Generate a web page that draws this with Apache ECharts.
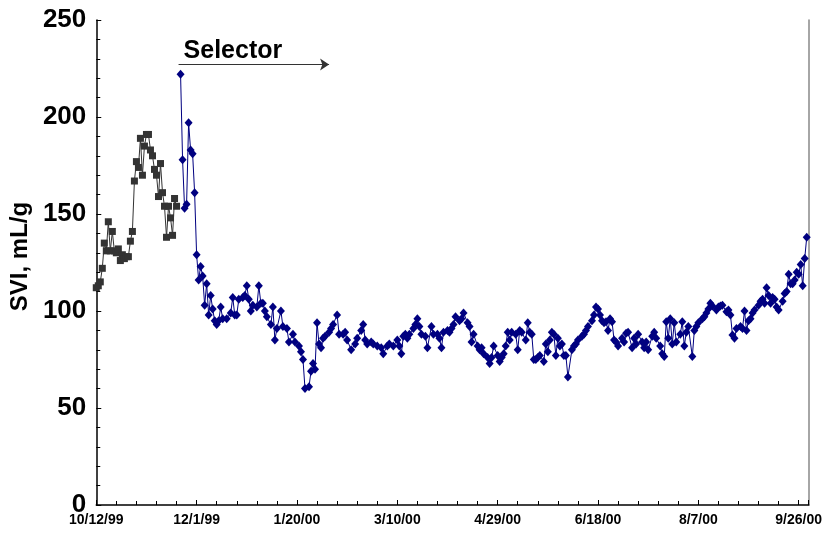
<!DOCTYPE html>
<html><head><meta charset="utf-8">
<script src="https://cdn.jsdelivr.net/npm/echarts@6/dist/echarts.min.js"></script>
<style>html,body{margin:0;padding:0;background:#fff}#c{width:825px;height:535px}</style>
</head><body><div id="c"></div>
<script>
// ---------- data ----------
const startDate = '1999-10-12';
const endDate = '2000-10-01';
const xTickIntervalDays = 50;
const yMin = 0, yMax = 250, yInterval = 50;
const yAxisTitle = 'SVI, mL/g';

const prelimDates = [
 '1999-10-12','1999-10-13','1999-10-14','1999-10-15','1999-10-16','1999-10-17','1999-10-18','1999-10-19','1999-10-20','1999-10-21',
 '1999-10-22','1999-10-23','1999-10-24','1999-10-25','1999-10-26','1999-10-27','1999-10-28','1999-10-29','1999-10-30','1999-10-31',
 '1999-11-01','1999-11-02','1999-11-03','1999-11-04','1999-11-05','1999-11-06','1999-11-07','1999-11-08','1999-11-09','1999-11-10',
 '1999-11-11','1999-11-12','1999-11-13','1999-11-14','1999-11-15','1999-11-16','1999-11-17','1999-11-18','1999-11-19','1999-11-20','1999-11-21'];
const prelimSVI = [
 112,113,115,122,135,131,146,131,141,131,
 130,132,126,129,127,128,128,136,141,167,
 177,174,189,170,185,191,191,183,180,173,
 170,159,176,161,154,138,154,148,139,158,154];

const selectorDates = [
 '1999-11-23','1999-11-24','1999-11-25','1999-11-26','1999-11-27','1999-11-28','1999-11-29','1999-11-30',
 '1999-12-01','1999-12-02','1999-12-03','1999-12-04','1999-12-05','1999-12-06','1999-12-07','1999-12-08','1999-12-09','1999-12-10',
 '1999-12-11','1999-12-12','1999-12-13','1999-12-14','1999-12-16','1999-12-18','1999-12-19','1999-12-20','1999-12-21','1999-12-22',
 '1999-12-24','1999-12-25','1999-12-26','1999-12-27','1999-12-28','1999-12-29','1999-12-31',
 '2000-01-01','2000-01-02','2000-01-03','2000-01-04','2000-01-05','2000-01-07','2000-01-08','2000-01-09','2000-01-10','2000-01-12',
 '2000-01-13','2000-01-15','2000-01-16','2000-01-18','2000-01-19','2000-01-21','2000-01-22','2000-01-23','2000-01-24','2000-01-26',
 '2000-01-27','2000-01-28','2000-01-29','2000-01-30','2000-01-31',
 '2000-02-01','2000-02-02','2000-02-03','2000-02-05','2000-02-06','2000-02-07','2000-02-09','2000-02-10','2000-02-12','2000-02-13',
 '2000-02-14','2000-02-16','2000-02-18','2000-02-19','2000-02-21','2000-02-22','2000-02-23','2000-02-24','2000-02-26','2000-02-27','2000-02-29',
 '2000-03-02','2000-03-03','2000-03-05','2000-03-06','2000-03-08','2000-03-10','2000-03-11','2000-03-12','2000-03-13','2000-03-14',
 '2000-03-15','2000-03-16','2000-03-18','2000-03-19','2000-03-20','2000-03-21','2000-03-22','2000-03-24','2000-03-25','2000-03-27',
 '2000-03-28','2000-03-30','2000-03-31',
 '2000-04-01','2000-04-02','2000-04-04','2000-04-05','2000-04-06','2000-04-07','2000-04-08','2000-04-10','2000-04-11','2000-04-12',
 '2000-04-14','2000-04-15','2000-04-16','2000-04-17','2000-04-19','2000-04-20','2000-04-21','2000-04-22','2000-04-24','2000-04-25',
 '2000-04-26','2000-04-27','2000-04-29','2000-04-30',
 '2000-05-01','2000-05-02','2000-05-03','2000-05-04','2000-05-05','2000-05-06','2000-05-08','2000-05-09','2000-05-10','2000-05-11',
 '2000-05-13','2000-05-14','2000-05-15','2000-05-16','2000-05-17','2000-05-18','2000-05-19','2000-05-20','2000-05-22','2000-05-23',
 '2000-05-24','2000-05-25','2000-05-26','2000-05-27','2000-05-28','2000-05-29','2000-05-30','2000-05-31',
 '2000-06-01','2000-06-02','2000-06-03','2000-06-05','2000-06-06','2000-06-07','2000-06-08','2000-06-10','2000-06-11','2000-06-12',
 '2000-06-13','2000-06-15','2000-06-16','2000-06-17','2000-06-18','2000-06-19','2000-06-20','2000-06-21','2000-06-22','2000-06-23',
 '2000-06-24','2000-06-25','2000-06-26','2000-06-27','2000-06-28','2000-06-30',
 '2000-07-01','2000-07-02','2000-07-03','2000-07-05','2000-07-06','2000-07-07','2000-07-08','2000-07-10','2000-07-11','2000-07-12',
 '2000-07-13','2000-07-15','2000-07-16','2000-07-17','2000-07-19','2000-07-20','2000-07-21','2000-07-22','2000-07-23','2000-07-24',
 '2000-07-25','2000-07-26','2000-07-27','2000-07-29','2000-07-30','2000-07-31',
 '2000-08-01','2000-08-02','2000-08-04','2000-08-05','2000-08-06','2000-08-07','2000-08-09','2000-08-10','2000-08-11','2000-08-12',
 '2000-08-13','2000-08-14','2000-08-16','2000-08-17','2000-08-18','2000-08-19','2000-08-21','2000-08-22','2000-08-23','2000-08-24',
 '2000-08-25','2000-08-26','2000-08-28','2000-08-29','2000-08-30','2000-08-31',
 '2000-09-01','2000-09-02','2000-09-03','2000-09-04','2000-09-06','2000-09-07','2000-09-08','2000-09-09','2000-09-10','2000-09-11',
 '2000-09-12','2000-09-13','2000-09-14','2000-09-15','2000-09-16','2000-09-18','2000-09-19','2000-09-20','2000-09-21','2000-09-22',
 '2000-09-23','2000-09-24','2000-09-25','2000-09-26','2000-09-27','2000-09-28','2000-09-29','2000-09-30'];
const selectorSVI = [
 222,178,153,155,197,183,181,161,
 129,116,123,118,103,114,98,108,101,95,
 93,95,102,96,96,99,107,98,98,106,
 107,108,113,106,100,103,102,
 113,104,104,100,97,93,102,85,91,100,
 92,91,84,88,84,82,79,75,60,61,
 69,73,70,94,83,
 81,86,87,89,91,93,98,88,88,89,
 85,80,83,86,90,93,85,83,84,83,82,
 81,78,82,83,82,85,82,78,87,88,
 86,88,91,93,96,92,88,87,81,92,
 88,88,86,
 81,89,90,89,91,93,97,95,96,99,
 94,92,84,88,82,80,81,78,76,73,
 76,82,77,74,
 76,78,82,89,85,89,88,80,90,89,
 85,94,89,88,75,75,76,77,74,83,
 79,85,89,88,77,86,82,83,
 77,77,66,80,82,83,85,87,88,90,
 92,95,98,102,101,98,95,94,94.5,90,
 96,94.5,85,84,82,86,
 84,88.5,89,81,86,83,88,84,81,84,
 80,87,89,86,82,78,76.5,94.5,86,96,
 83,94,84,88,94.5,82,
 89,92,76.5,90,92,94,96,97,99,101,
 104,102.6,100.5,102,102.6,103,99.6,100.5,98,87.6,
 86,91,92,91,100,90,
 95,96,99,100.5,103,105,106,104,112,108,
 104,107,106,102,100.5,105,109,110,119,114,
 114,116,120,119,124,113,127,138];

const annotationText = 'Selector';
const arrowDates = ['1999-11-22', '2000-02-05'];
const arrowLevel = 227;
const annotationDate = '1999-11-25';
const annotationLevel = 234;

// ---------- helpers ----------
const DAY = 86400000;
function utc(s){ const p = s.split('-').map(Number); return Date.UTC(p[0], p[1]-1, p[2]); }
const t0 = utc(startDate);
function dayOf(s){ return Math.round((utc(s) - t0) / DAY); }
function fmt(v){
  const d = new Date(t0 + v*DAY);
  return (d.getUTCMonth()+1) + '/' + d.getUTCDate() + '/' + String(d.getUTCFullYear()).slice(2);
}
const prelimData = prelimDates.map((d,i)=>[dayOf(d), prelimSVI[i]]);
const selectorData = selectorDates.map((d,i)=>[dayOf(d), selectorSVI[i]]);

const FONT = '"Liberation Sans", Arial, sans-serif';
const chart = echarts.init(document.getElementById('c'), null, {renderer:'canvas'});
chart.setOption({
  animation:false,
  backgroundColor:'#fff',
  grid:{left:93, right:12, top:20, bottom:30, containLabel:false},
  xAxis:[{
    type:'value', min:0, max:dayOf(endDate), interval:xTickIntervalDays,
    axisLine:{lineStyle:{color:'#000', width:1.5}},
    axisTick:{inside:true, length:5, lineStyle:{color:'#000'}},
    minorTick:{show:true, splitNumber:5, length:4, lineStyle:{color:'#000'}},
    splitLine:{show:false},
    axisLabel:{
      margin:8, fontFamily:FONT, fontWeight:'bold', fontSize:14, color:'#000',
      showMaxLabel:false,
      formatter:function(v){ return (v % xTickIntervalDays === 0) ? fmt(v) : ''; }
    }
  }],
  yAxis:[{
    type:'value', min:yMin, max:yMax, interval:yInterval,
    name:yAxisTitle, nameLocation:'middle', nameRotate:90, nameGap:58,
    nameTextStyle:{fontFamily:FONT, fontWeight:'bold', fontSize:24, color:'#000', padding:[0,0,0,12]},
    axisLine:{show:true, lineStyle:{color:'#000', width:1.5}},
    axisTick:{inside:true, length:5, lineStyle:{color:'#000'}},
    minorTick:{show:true, splitNumber:5, length:4, lineStyle:{color:'#000'}},
    splitLine:{show:false},
    axisLabel:{margin:10, fontFamily:FONT, fontWeight:'bold', fontSize:26, color:'#000'}
  },{
    type:'value', min:yMin, max:yMax, position:'right',
    axisLine:{show:true, lineStyle:{color:'#888', width:1.5}},
    axisTick:{show:false}, axisLabel:{show:false}, splitLine:{show:false}
  }],
  series:[{
    type:'line', name:'prelim', data:prelimData,
    symbol:'rect', symbolSize:7, showAllSymbol:true,
    itemStyle:{color:'#333333'},
    lineStyle:{color:'#333333', width:1}
  },{
    type:'line', name:'selector', data:selectorData,
    symbol:'diamond', symbolSize:[8,9], showAllSymbol:true,
    itemStyle:{color:'#000080'},
    lineStyle:{color:'#000080', width:1},
    markLine:{
      silent:true, symbol:['none','arrow'], symbolSize:9,
      lineStyle:{color:'#333', width:1.2, type:'solid'},
      label:{show:false},
      data:[[{coord:[dayOf(arrowDates[0]), arrowLevel]},{coord:[dayOf(arrowDates[1]), arrowLevel]}]]
    }
  }]
});
const p = chart.convertToPixel({gridIndex:0}, [dayOf(annotationDate), annotationLevel]);
chart.setOption({graphic:[{
  type:'text', left:p[0] - 1, top:p[1]-12,
  style:{text:annotationText, font:'bold 25px ' + FONT, fill:'#000'}
}]});
</script>
</body></html>
